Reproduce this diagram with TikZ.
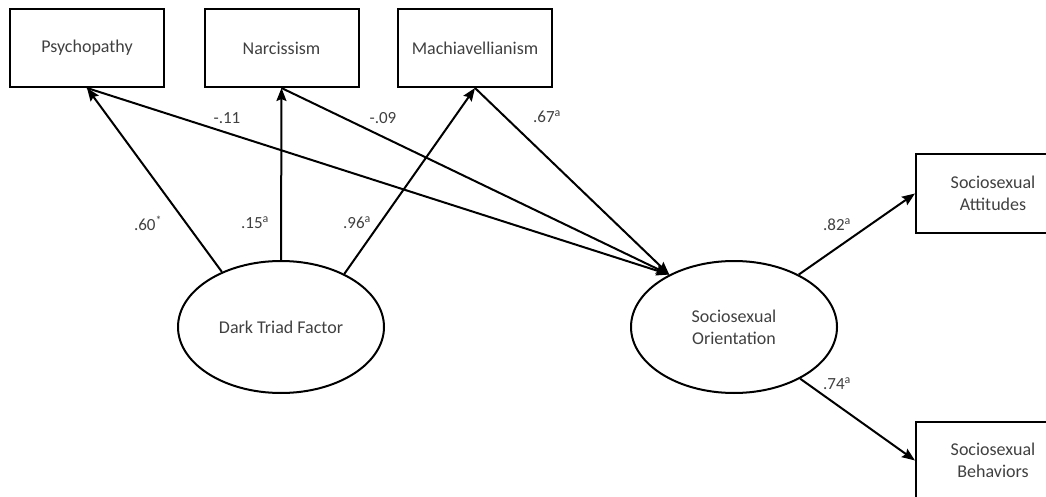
\documentclass[tikz,border=0pt]{standalone}
\usepackage{fontspec}
\setmainfont{Carlito}
\usetikzlibrary{arrows.meta,shapes.geometric}
\definecolor{txtgray}{HTML}{404040}
\begin{document}
\begin{tikzpicture}[x=1pt,y=-1pt]
    \tikzstyle{obs}=[rectangle,draw,line width=2pt,minimum width=154pt,minimum height=78pt,inner sep=0pt,align=center,text=txtgray,font=\fontsize{18}{22}\selectfont]
    \tikzstyle{lat}=[ellipse,draw,line width=2pt,minimum width=206pt,minimum height=132pt,inner sep=0pt,align=center,text=txtgray,font=\fontsize{18}{22}\selectfont]
    \tikzstyle{path}=[line width=2pt,-{Stealth[length=13pt,width=10pt,inset=2pt]}]
    \tikzstyle{coef}=[text=txtgray,font=\fontsize{17}{20}\selectfont,inner sep=0pt]
    \useasboundingbox (0,0) rectangle (1046,497);
    \node[obs] (psy) at (87,48)   {Psychopathy};
    \node[obs] (nar) at (281.5,48) {Narcissism};
    \node[obs] (mac) at (475,48)  {Machiavellianism};
    \node[lat] (dt)  at (281,327) {Dark Triad Factor};
    \node[lat] (so)  at (734,327) {Sociosexual\\Orientation};
    \node[obs] (att) at (993,193.5) {Sociosexual\\Attitudes};
    \node[obs] (beh) at (993,460.5) {Sociosexual\\Behaviors};

    \draw[path] (dt.137) -- (psy.south);
    \draw[path] (dt.north) -- (nar.south);
    \draw[path] (dt.40) -- (mac.south);
    \draw[path] (psy.south) -- (so.141);
    \draw[path] (nar.south) -- (so.141);
    \draw[path] (mac.south) -- (so.141);
    \draw[path] (so.39) -- (att.west);
    \draw[path] (so.-38) -- (beh.west);

    \node[coef] (c60) at (148,223) {.60\textsuperscript{*}};
    \node[coef] (c15) at (255,223) {.15\textsuperscript{a}};
    \node[coef] (c96) at (357,223) {.96\textsuperscript{a}};
    \node[coef] (c11) at (227,118) {-.11};
    \node[coef] (c09) at (383,118) {-.09};
    \node[coef] (c67) at (547,117) {.67\textsuperscript{a}};
    \node[coef] (c82) at (837,225) {.82\textsuperscript{a}};
    \node[coef] (c74) at (837,384) {.74\textsuperscript{a}};
\end{tikzpicture}
\end{document}
